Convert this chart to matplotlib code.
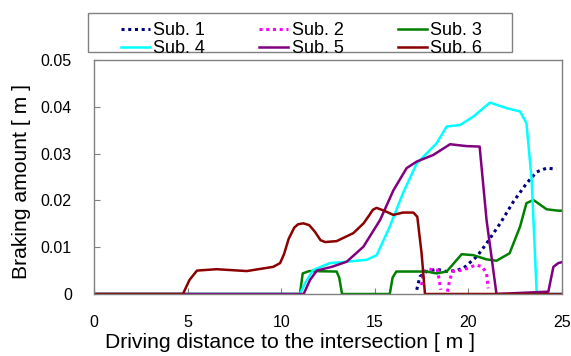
import matplotlib
matplotlib.use("Agg")
import matplotlib.pyplot as plt
from matplotlib.lines import Line2D
from matplotlib.patches import Rectangle

plt.rcParams['font.family'] = ['Liberation Sans', 'DejaVu Sans']

labels = ["Sub. 1", "Sub. 2", "Sub. 3", "Sub. 4", "Sub. 5", "Sub. 6"]
colors = ["#000080", "#FF00FF", "#008000", "#00FFFF", "#800080", "#8B0000"]

x1 = [17.24, 17.41, 17.76, 18.3, 18.84, 19.3, 19.73, 20.45, 20.97, 21.7, 22.4, 23.1, 23.65, 24.18, 24.63, 24.7]
y1 = [0.0009, 0.0037, 0.0048, 0.0053, 0.0048, 0.0050, 0.0055, 0.0080, 0.0108, 0.0151, 0.0197, 0.0236, 0.0261, 0.0269, 0.0267, 0.0267]

x2a = [17.5, 17.6, 17.9, 18.35, 18.44, 18.53]
y2a = [0.0019, 0.0048, 0.0053, 0.0051, 0.0030, 0.0009]
x2b = [18.88, 19.0, 19.15, 19.7, 20.4, 20.75, 20.97, 21.06]
y2b = [0.0005, 0.0030, 0.0048, 0.0051, 0.0062, 0.0058, 0.0044, 0.0012]

x3 = [0, 11.0, 11.15, 11.5, 12.96, 13.1, 13.25, 15.8, 15.95, 16.15, 17.76, 18.3, 18.84, 19.64, 20.26, 20.97, 21.5, 22.2, 22.76, 23.1, 23.47, 24.18, 24.8, 25.0]
y3 = [0, 0, 0.0044, 0.0049, 0.0048, 0.0035, 0, 0, 0.0035, 0.0048, 0.0048, 0.0044, 0.0048, 0.0085, 0.0083, 0.0074, 0.0071, 0.0087, 0.0144, 0.0194, 0.0201, 0.0181, 0.0178, 0.0178]

x4 = [0, 11.0, 11.3, 11.7, 12.6, 13.5, 14.57, 15.1, 15.8, 16.5, 17.24, 18.3, 18.84, 19.55, 20.26, 21.15, 22.05, 22.76, 23.1, 23.38, 23.65, 25.0]
y4 = [0, 0, 0.0025, 0.0051, 0.0066, 0.0069, 0.0073, 0.0083, 0.0144, 0.0215, 0.0279, 0.0322, 0.0358, 0.0361, 0.0379, 0.0409, 0.0397, 0.0390, 0.0365, 0.0244, 0, 0]

x5 = [0, 11.2, 11.54, 11.9, 12.7, 13.5, 14.39, 15.28, 16.0, 16.7, 17.24, 18.12, 19.02, 19.9, 20.6, 20.97, 21.5, 24.27, 24.54, 24.8, 25.0]
y5 = [0, 0, 0.0030, 0.0050, 0.0058, 0.0069, 0.0101, 0.0158, 0.0222, 0.0269, 0.0283, 0.0297, 0.0320, 0.0316, 0.0315, 0.0158, 0, 0.0005, 0.0058, 0.0066, 0.0068]

x6 = [0, 4.75, 5.1, 5.5, 6.55, 8.16, 9.57, 9.94, 10.15, 10.4, 10.7, 10.9, 11.18, 11.5, 11.8, 12.1, 12.35, 12.96, 13.85, 14.4, 14.7, 14.9, 15.09, 15.5, 15.99, 16.5, 17.06, 17.27, 17.5, 17.68, 25.0]
y6 = [0, 0, 0.0030, 0.0050, 0.0053, 0.0049, 0.0058, 0.0066, 0.0085, 0.0118, 0.0142, 0.0149, 0.0151, 0.0147, 0.0133, 0.0115, 0.0111, 0.0113, 0.0130, 0.0151, 0.0168, 0.0180, 0.0184, 0.0178, 0.0169, 0.0174, 0.0174, 0.0165, 0.0087, 0, 0]

xticks = [0, 5, 10, 15, 20, 25]
yticks = [0, 0.01, 0.02, 0.03, 0.04, 0.05]
ytick_labels = ["0", "0.01", "0.02", "0.03", "0.04", "0.05"]

fig = plt.figure(figsize=(5.71, 3.56), dpi=100)
ax = fig.add_axes([94/571, 1-294/356, 468/571, 234/356])

lw = 1.8
dot = (0, (1, 1.2))
ax.plot(x1, y1, color=colors[0], linestyle=dot, lw=2.2)
ax.plot(x2a, y2a, color=colors[1], linestyle=dot, lw=2.2)
ax.plot(x2b, y2b, color=colors[1], linestyle=dot, lw=2.2)
ax.plot(x3, y3, color=colors[2], lw=lw)
ax.plot(x4, y4, color=colors[3], lw=lw)
ax.plot(x5, y5, color=colors[4], lw=lw)
ax.plot(x6, y6, color=colors[5], lw=lw)

ax.set_xlim(0, 25)
ax.set_ylim(0, 0.05)
ax.set_xticks(xticks)
ax.set_xticklabels([str(t) for t in xticks])
ax.set_yticks(yticks)
ax.set_yticklabels(ytick_labels)
ax.tick_params(direction='in', length=4, color='#808080', labelsize=11.5)
ax.tick_params(axis='x', pad=15)
ax.tick_params(axis='y', pad=16)
for s in ax.spines.values():
    s.set_color('#808080')
    s.set_linewidth(1)

ax.set_xlabel("Driving distance to the intersection [ m ]", fontsize=15.2)
ax.xaxis.set_label_coords(0.419, -0.165)
ax.set_ylabel("Braking amount [ m ]", fontsize=15.2)
ax.yaxis.set_label_coords(-0.134, 0.48)

handles = [
    Line2D([], [], color=colors[0], linestyle=dot, lw=2.2),
    Line2D([], [], color=colors[1], linestyle=dot, lw=2.2),
    Line2D([], [], color=colors[2], lw=lw),
    Line2D([], [], color=colors[3], lw=lw),
    Line2D([], [], color=colors[4], lw=lw),
    Line2D([], [], color=colors[5], lw=lw),
]
order = [0, 3, 1, 4, 2, 5]
fig.patches.append(Rectangle((88/571, 1-52/356), 424/571, 39/356, transform=fig.transFigure,
                             facecolor='white', edgecolor='#808080', lw=1, zorder=0))
leg = fig.legend([handles[i] for i in order], [labels[i] for i in order], ncol=3,
                 loc='lower left', bbox_to_anchor=(118/571, 1-60/356, 367/571, 39/356),
                 mode='expand', fontsize=13, frameon=False,
                 handlelength=1.6, handletextpad=0.2,
                 labelspacing=0.05, borderpad=0.15, borderaxespad=0, columnspacing=1.0)

fig.savefig("out.png", dpi=100)
